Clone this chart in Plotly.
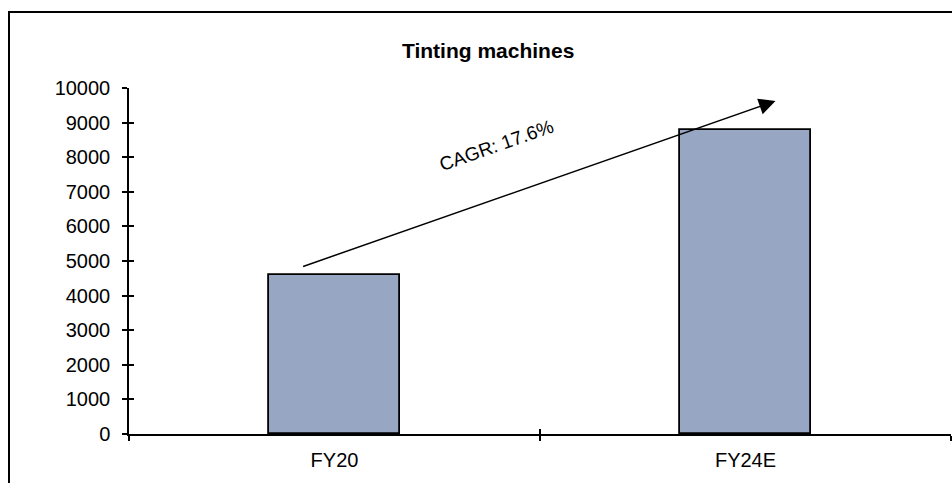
import plotly.graph_objects as go

categories = ["FY20", "FY24E"]
values = [4600, 8800]
y_ticks = [0, 1000, 2000, 3000, 4000, 5000, 6000, 7000, 8000, 9000, 10000]
y_tick_text = [str(v) for v in y_ticks]
title_text = "Tinting machines"
cagr_text = "CAGR: 17.6%"

W, H = 952, 483
L, R, T, B = 129, 1, 88, 49
pw, ph = W - L - R, H - T - B

fig = go.Figure()
fig.add_trace(go.Bar(
    x=categories, y=values, width=0.317,
    marker=dict(color="#97A7C3", line=dict(color="#000000", width=1.8)),
    hoverinfo="skip",
))
# overlay trace for inside ticks
fig.add_trace(go.Scatter(x=categories, y=values, xaxis="x2", yaxis="y2",
                         mode="markers", marker=dict(opacity=0), hoverinfo="skip",
                         showlegend=False))

font = "Liberation Sans, Arial, sans-serif"
fig.update_layout(
    width=W, height=H,
    margin=dict(l=L, r=R, t=T, b=B),
    paper_bgcolor="white", plot_bgcolor="white",
    showlegend=False,
    bargap=0,
    font=dict(family=font, color="#000000", size=20),
    xaxis=dict(type="category", range=[-0.5, 1.5], tickson="boundaries",
               ticks="outside", ticklen=5, tickwidth=1.5, tickcolor="#000",
               showline=True, linecolor="#000", linewidth=1.5,
               showgrid=False, zeroline=False,
               tickfont=dict(size=20, family=font), ticklabelstandoff=7),
    yaxis=dict(range=[0, 10000], tickvals=y_ticks, ticktext=y_tick_text,
               ticks="outside", ticklen=5,
               tickwidth=1.5, tickcolor="#000", showline=True, linecolor="#000",
               linewidth=1.5, showgrid=False, zeroline=False,
               tickfont=dict(size=20, family=font), ticklabelstandoff=8),
    xaxis2=dict(type="category", range=[-0.5, 1.5], overlaying="x", anchor="y2",
                tickson="boundaries", ticks="inside", ticklen=5, tickwidth=1.5,
                tickcolor="#000", showticklabels=False, showline=False,
                showgrid=False, zeroline=False, side="bottom"),
    yaxis2=dict(range=[0, 10000], tickvals=y_ticks, overlaying="y", anchor="x2",
                side="left", ticks="inside", ticklen=5, tickwidth=1.5,
                tickcolor="#000", showticklabels=False, showline=False,
                showgrid=False, zeroline=False),
)

# outer border box
fig.add_shape(type="rect", xref="paper", yref="paper",
              x0=(9 - L) / pw, x1=1.05, y0=-0.3, y1=(H - B - 12) / ph,
              line=dict(color="#000", width=2), fillcolor="rgba(0,0,0,0)", layer="below")

# title
fig.add_annotation(text="<b>" + title_text + "</b>", xref="paper", yref="paper",
                   x=(488 - L) / pw, y=(H - B - 50) / ph, showarrow=False,
                   font=dict(size=21, family=font), xanchor="center", yanchor="middle")

# CAGR arrow
fig.add_annotation(x=1.073, y=9624, ax=-0.08, ay=4827, xref="x", yref="y",
                   axref="x", ayref="y", text="", showarrow=True,
                   arrowhead=2, arrowsize=2.2, arrowwidth=1.5, arrowcolor="#000")
fig.add_annotation(text=cagr_text, xref="x", yref="y", x=0.393, y=8324,
                   showarrow=False, textangle=-19.3,
                   font=dict(size=19, family=font))

fig.write_html("out.html")
